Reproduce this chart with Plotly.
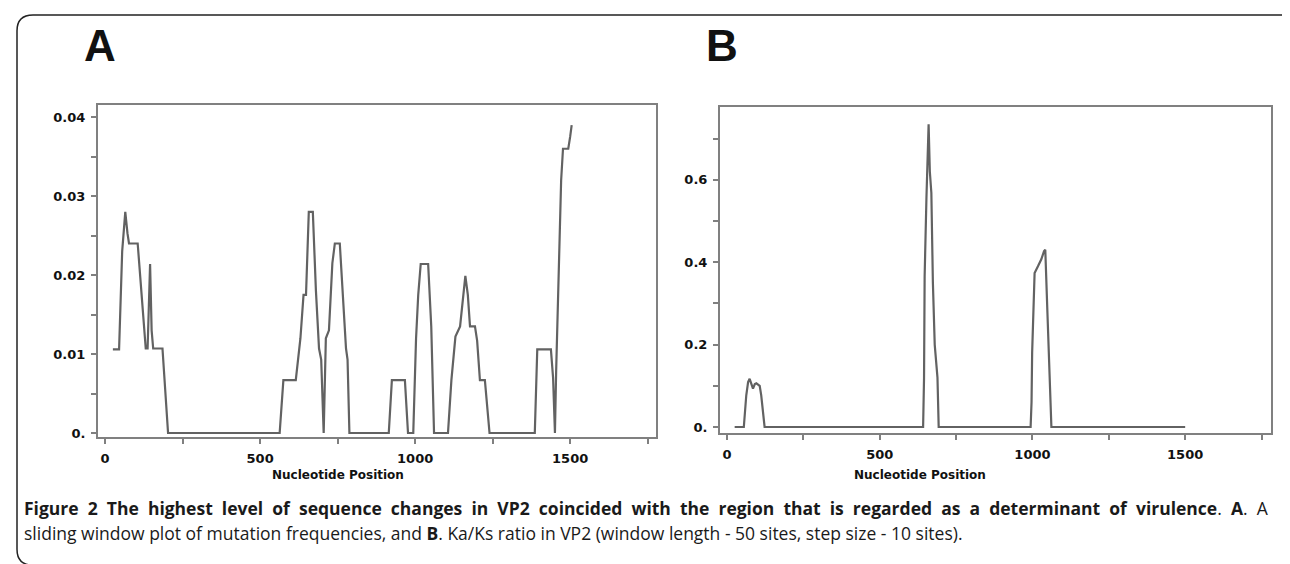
import plotly.graph_objects as go

W, H = 1290, 564

# ---------------- data ----------------
# Panel A: sliding window mutation frequency
a_pos = [25, 45, 55, 65, 72, 77, 105, 115, 125, 131, 137, 145, 150, 155, 185, 195, 203,
         563, 575, 615, 630, 640, 648, 657, 670, 680, 690, 697, 705, 712, 722, 733, 741,
         757, 767, 777, 782, 788, 915, 925, 967, 977, 994, 1003, 1010, 1018, 1042, 1052,
         1061, 1106, 1117, 1130, 1145, 1155, 1162, 1170, 1177, 1193, 1200, 1209, 1225,
         1240, 1386, 1394, 1438, 1445, 1451, 1455, 1460, 1465, 1471, 1477, 1494, 1500, 1505]
a_freq = [0.0106, 0.0106, 0.023, 0.028, 0.0253, 0.024, 0.024, 0.019, 0.013, 0.0107, 0.0107,
          0.0214, 0.013, 0.0107, 0.0107, 0.005, 0.0,
          0.0, 0.0067, 0.0067, 0.012, 0.0175, 0.0175, 0.028, 0.028, 0.018, 0.0107, 0.0093,
          0.0, 0.012, 0.013, 0.0215, 0.024,
          0.024, 0.0176, 0.0107, 0.0093, 0.0, 0.0, 0.0067, 0.0067, 0.0, 0.0, 0.012, 0.0175,
          0.0214, 0.0214, 0.0135,
          0.0, 0.0, 0.0067, 0.0122, 0.0135, 0.0175, 0.0199, 0.0175, 0.0135, 0.0135, 0.0117,
          0.0067, 0.0067,
          0.0, 0.0, 0.0106, 0.0106, 0.007, 0.0, 0.008, 0.016, 0.024, 0.032, 0.036, 0.036,
          0.0375, 0.039]

# Panel B: Ka/Ks ratio
b_pos = [25, 55, 63, 69, 74, 80, 85, 91, 96, 107, 112, 123,
         642, 645, 647, 653, 660, 664, 669, 674, 680, 689, 693,
         994, 997, 999, 1003, 1007, 1018, 1029, 1038, 1042, 1049, 1053, 1057, 1062, 1500]
b_kaks = [0.0, 0.0, 0.077, 0.109, 0.117, 0.1, 0.093, 0.104, 0.106, 0.1, 0.077, 0.0,
          0.0, 0.118, 0.366, 0.559, 0.735, 0.62, 0.568, 0.35, 0.2, 0.12, 0.0,
          0.0, 0.06, 0.181, 0.306, 0.374, 0.39, 0.407, 0.427, 0.43, 0.278, 0.18, 0.094, 0.0, 0.0]

x_tick_vals = [0, 250, 500, 750, 1000, 1250, 1500, 1750]
x_tick_text = ["0", "", "500", "", "1000", "", "1500", ""]
a_ytick_vals = [0, 0.005, 0.01, 0.015, 0.02, 0.025, 0.03, 0.035, 0.04]
a_ytick_text = ["0.", "", "0.01", "", "0.02", "", "0.03", "", "0.04"]
b_ytick_vals = [0, 0.1, 0.2, 0.3, 0.4, 0.5, 0.6, 0.7]
b_ytick_text = ["0.", "", "0.2", "", "0.4", "", "0.6", ""]

x_title = "Nucleotide Position"
panel_labels = ["A", "B"]
caption_1_words = ["<b>Figure", "2", "The", "highest", "level", "of", "sequence", "changes",
                   "in", "VP2", "coincided", "with", "the", "region", "that", "is", "regarded",
                   "as", "a", "determinant", "of", "virulence</b>.", "<b>A</b>.", "A"]
caption_2 = ("sliding window plot of mutation frequencies, and <b>B</b>. Ka/Ks ratio in VP2 "
             "(window length - 50 sites, step size - 10 sites).")


def px(x):
    return x / W


def py(y):
    return 1 - y / H


LINE_C = "#626262"
FRAME_C = "#808080"
tick_font = dict(family="DejaVu Sans", size=13, color="#111", weight="bold")

fig = go.Figure()
fig.add_trace(go.Scatter(x=a_pos, y=a_freq, mode="lines", xaxis="x", yaxis="y",
                         line=dict(color=LINE_C, width=2.2), showlegend=False))
fig.add_trace(go.Scatter(x=b_pos, y=b_kaks, mode="lines", xaxis="x2", yaxis="y2",
                         line=dict(color=LINE_C, width=2.2), showlegend=False))

common_axis = dict(showline=True, mirror=True, linecolor=FRAME_C, linewidth=2,
                   showgrid=False, zeroline=False, ticks="outside", ticklen=5,
                   tickcolor=FRAME_C, tickwidth=1.5, tickfont=tick_font, fixedrange=True,
                   ticklabelstandoff=3)

fig.update_layout(
    width=W, height=H, margin=dict(l=0, r=0, t=0, b=0),
    paper_bgcolor="white", plot_bgcolor="white",
    xaxis=dict(domain=[px(90), px(648)], range=[-23, 1777], anchor="y",
               tickmode="array", tickvals=x_tick_vals, ticktext=x_tick_text, **common_axis),
    yaxis=dict(domain=[py(432), py(98)], range=[-0.0005, 0.0415], anchor="x",
               tickmode="array", tickvals=a_ytick_vals, ticktext=a_ytick_text, **common_axis),
    xaxis2=dict(domain=[px(712), px(1263)], range=[-23, 1781], anchor="y2",
                tickmode="array", tickvals=x_tick_vals, ticktext=x_tick_text, **common_axis),
    yaxis2=dict(domain=[py(428), py(100)], range=[-0.0145, 0.776], anchor="x2",
                tickmode="array", tickvals=b_ytick_vals, ticktext=b_ytick_text, **common_axis),
)

annots = []
# axis titles
for cx in (330, 912):
    annots.append(dict(text=x_title, x=px(cx), y=py(470), xref="paper", yref="paper",
                       showarrow=False, xanchor="center", yanchor="middle",
                       font=dict(family="DejaVu Sans", size=12, color="#111", weight="bold")))
# panel letters
for lab, cx in zip(panel_labels, (92, 714)):
    annots.append(dict(text="<b>%s</b>" % lab, x=px(cx), y=py(38), xref="paper", yref="paper",
                       showarrow=False, xanchor="center", yanchor="middle",
                       font=dict(family="Liberation Sans", size=44, color="#111")))
# caption (line 1 justified across the full width by widening word gaps)
caption_1 = " \u00a0".join(caption_1_words)
annots.append(dict(text=caption_1, x=px(14), y=py(504), xref="paper", yref="paper",
                   showarrow=False, xanchor="left", yanchor="middle", align="left",
                   font=dict(family="Open Sans", size=17.5, color="#1a1a1a")))
annots.append(dict(text=caption_2, x=px(14), y=py(529), xref="paper", yref="paper",
                   showarrow=False, xanchor="left", yanchor="middle", align="left",
                   font=dict(family="Open Sans", size=17.5, color="#1a1a1a")))
fig.update_layout(annotations=annots)

# outer rounded border (left, top, bottom)
r = 16
L, T, B, R = 9, 7, 561, 1289
path = (f"M {px(R)},{py(T)} L {px(L + r)},{py(T)} Q {px(L)},{py(T)} {px(L)},{py(T + r)} "
        f"L {px(L)},{py(B - r)} Q {px(L)},{py(B)} {px(L + r)},{py(B)} L {px(R)},{py(B)}")
fig.add_shape(type="path", path=path, xref="paper", yref="paper",
              line=dict(color="#222", width=1.5))

fig.write_html("out.html")
